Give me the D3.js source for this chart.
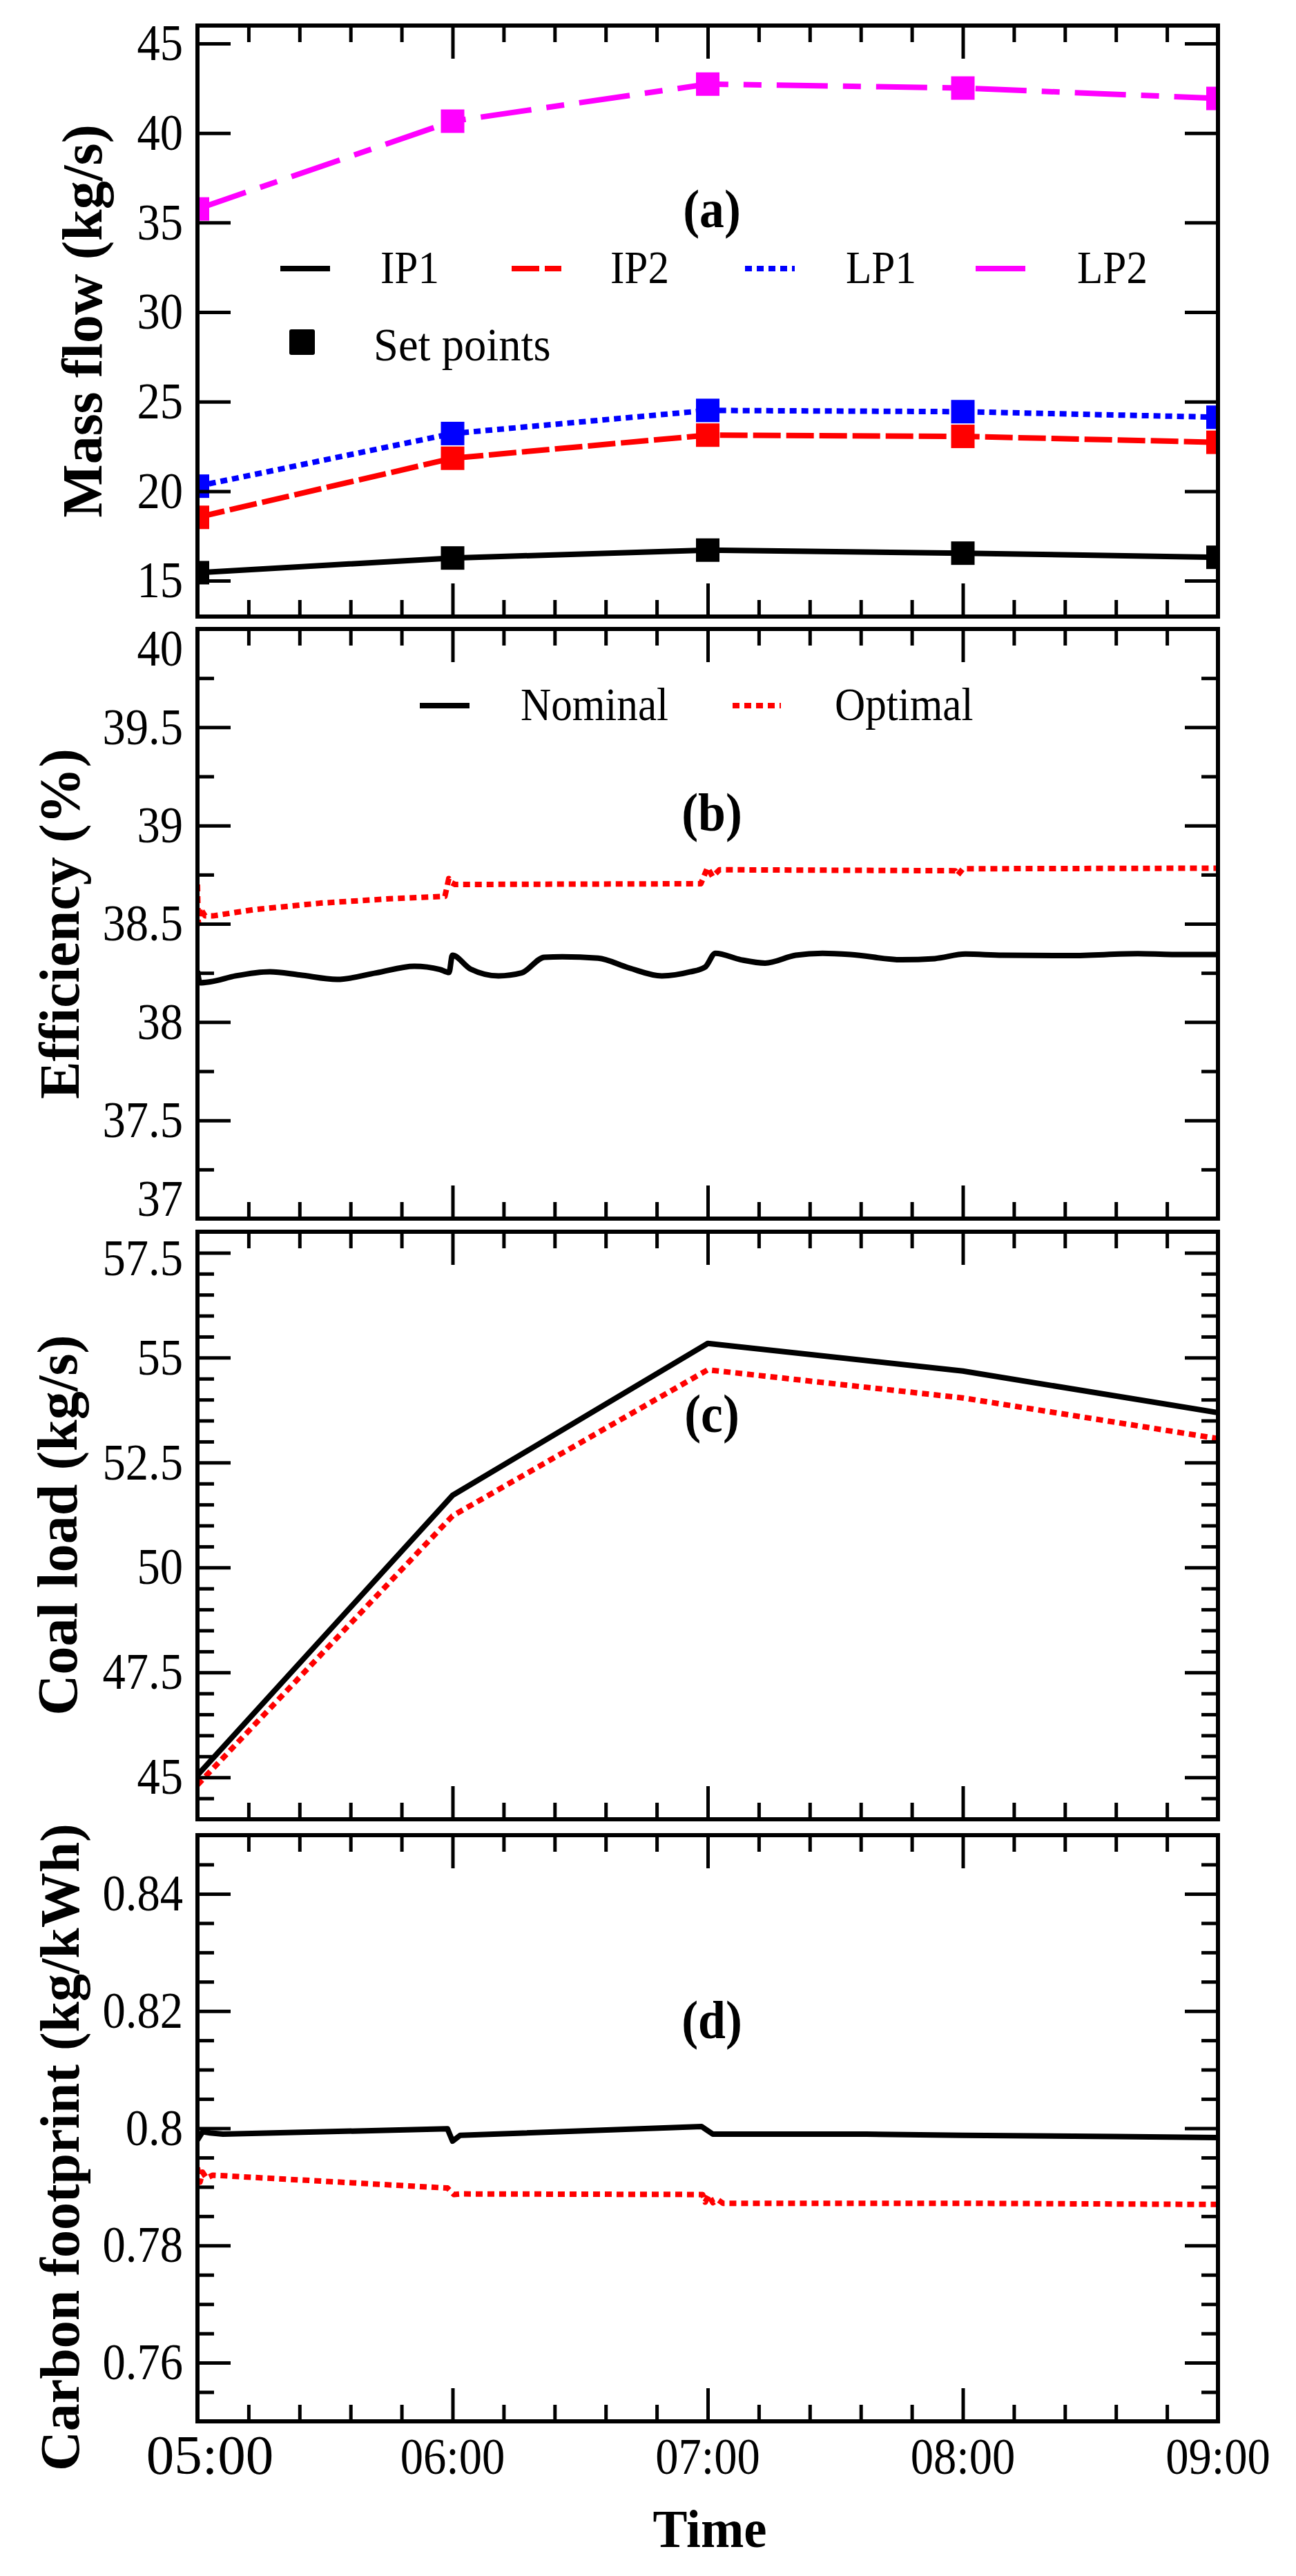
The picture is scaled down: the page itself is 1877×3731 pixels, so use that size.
<!DOCTYPE html>
<html><head><meta charset="utf-8">
<script src="https://cdn.jsdelivr.net/npm/d3@7"></script>
<style>body{margin:0;background:#fff}</style>
</head><body>
<script>
// ---------------- DATA ----------------
const hours = [5, 6, 7, 8, 9];
const hourLabels = ["05:00", "06:00", "07:00", "08:00", "09:00"];

// (a) Mass flow set points (kg/s)
const ip1 = [15.45, 16.27, 16.71, 16.54, 16.31];
const ip2 = [18.54, 21.84, 23.13, 23.06, 22.73];
const lp1 = [20.28, 23.22, 24.51, 24.44, 24.13];
const lp2 = [35.76, 40.66, 42.73, 42.51, 41.93];

// (b) Efficiency (%)
const effNomT = [5.000, 5.010, 5.050, 5.150, 5.284, 5.400, 5.547, 5.700, 5.850, 5.950, 5.986, 5.999, 6.070, 6.180, 6.270, 6.360, 6.430, 6.570, 6.690, 6.820, 6.930, 6.990, 7.030, 7.130, 7.225, 7.345, 7.450, 7.560, 7.760, 7.890, 8.010, 8.155, 8.420, 8.686, 8.820, 9.000];
const effNomV = [38.26, 38.20, 38.205, 38.235, 38.256, 38.24, 38.217, 38.25, 38.284, 38.268, 38.252, 38.34, 38.27, 38.235, 38.25, 38.33, 38.332, 38.325, 38.276, 38.235, 38.255, 38.28, 38.35, 38.317, 38.30, 38.34, 38.35, 38.344, 38.317, 38.323, 38.346, 38.34, 38.338, 38.348, 38.344, 38.344];
const effOptT = [5.000, 5.003, 5.010, 5.030, 5.060, 5.220, 5.480, 5.750, 5.970, 5.985, 5.995, 6.010, 6.973, 6.999, 7.019, 7.046, 7.970, 7.980, 8.000, 9.000];
const effOptV = [38.70, 38.50, 38.58, 38.54, 38.54, 38.572, 38.605, 38.627, 38.64, 38.73, 38.71, 38.70, 38.704, 38.786, 38.74, 38.775, 38.77, 38.748, 38.78, 38.783];

// (c) Coal load (kg/s)
const coalNom = [45.05, 51.72, 55.34, 54.68, 53.69];
const coalOpt = [44.82, 51.23, 54.71, 54.04, 53.07];

// (d) Carbon footprint (kg/kWh)
const cfNomT = [5.000, 5.020, 5.050, 5.100, 5.980, 6.000, 6.030, 6.976, 7.020, 7.620, 8.000, 8.600, 9.000];
const cfNomV = [0.7980, 0.7994, 0.7992, 0.7990, 0.7999, 0.7978, 0.7988, 0.8003, 0.7990, 0.7990, 0.7988, 0.7986, 0.7984];
const cfOptT = [5.000, 5.010, 5.020, 5.035, 5.060, 5.980, 6.005, 6.030, 6.980, 6.990, 7.005, 7.020, 7.040, 7.060, 8.000, 9.000];
const cfOptV = [0.7933, 0.7908, 0.7925, 0.7915, 0.7920, 0.7898, 0.7887, 0.7888, 0.7887, 0.7874, 0.7886, 0.7873, 0.7878, 0.7872, 0.7872, 0.7870];

// tick labels
const massTicks = [15, 20, 25, 30, 35, 40, 45];
const effTicks = [37, 37.5, 38, 38.5, 39, 39.5, 40];
const coalTicks = [45, 47.5, 50, 52.5, 55, 57.5];
const cfTicks = [0.76, 0.78, 0.8, 0.82, 0.84];

// ---------------- DRAWING ----------------
const W = 1877, H = 3731;
const FONT = "'Liberation Serif','Times New Roman',Times,serif";
const SX = 0.9; // narrow Times look of the reference
const svg = d3.select("body").append("svg").attr("width", W).attr("height", H)
  .attr("xmlns", "http://www.w3.org/2000/svg");
svg.append("rect").attr("width", W).attr("height", H).attr("fill", "#fff");
const defs = svg.append("defs");

const X0 = 286, X1 = 1764;
const x = d3.scaleLinear().domain([5, 9]).range([X0, X1]);
const xMinor = d3.range(5.2, 9, 0.2).filter(v => Math.abs(v - Math.round(v)) > 1e-6);

function minorOf(lo, hi, step, majors) {
  const out = [];
  const n = Math.round((hi - lo) / step);
  for (let i = 0; i <= n; i++) {
    const v = +(lo + i * step).toFixed(6);
    if (!majors.some(m => Math.abs(m - v) < step / 10)) out.push(v);
  }
  return out;
}

function styleAxis(sel) {
  sel.select(".domain").remove();
  sel.selectAll("line").attr("stroke", "#000").attr("stroke-width", 5);
  sel.attr("font-family", FONT).attr("font-size", 74);
  sel.selectAll("text").attr("fill", "#000");
}

function panel(id, top, bottom, domain, major, minor, fmt, shift) {
  const y = d3.scaleLinear().domain(domain).range([bottom, top]);
  const g = svg.append("g");
  defs.append("clipPath").attr("id", "clip" + id)
    .append("rect").attr("x", X0).attr("y", top).attr("width", X1 - X0).attr("height", bottom - top);
  const plot = g.append("g").attr("clip-path", `url(#clip${id})`);
  const axes = g.append("g");

  const left = axes.append("g").attr("transform", `translate(${X0},0)`)
    .call(d3.axisLeft(y).tickValues(major).tickSize(-48).tickPadding(21).tickFormat(fmt));
  styleAxis(left);
  left.selectAll("text").attr("x", 0)
    .attr("transform", d => `translate(-21,${(shift && shift[d]) || 0}) scale(${SX},1)`);
  if (minor.length) styleAxis(axes.append("g").attr("transform", `translate(${X0},0)`)
    .call(d3.axisLeft(y).tickValues(minor).tickSize(-24).tickFormat("")));
  styleAxis(axes.append("g").attr("transform", `translate(${X1},0)`)
    .call(d3.axisRight(y).tickValues(major).tickSize(-48).tickFormat("")));
  if (minor.length) styleAxis(axes.append("g").attr("transform", `translate(${X1},0)`)
    .call(d3.axisRight(y).tickValues(minor).tickSize(-24).tickFormat("")));
  styleAxis(axes.append("g").attr("transform", `translate(0,${top})`)
    .call(d3.axisTop(x).tickValues(hours).tickSize(-48).tickFormat("")));
  styleAxis(axes.append("g").attr("transform", `translate(0,${top})`)
    .call(d3.axisTop(x).tickValues(xMinor).tickSize(-24).tickFormat("")));
  styleAxis(axes.append("g").attr("transform", `translate(0,${bottom})`)
    .call(d3.axisBottom(x).tickValues(hours).tickSize(-48).tickFormat("")));
  styleAxis(axes.append("g").attr("transform", `translate(0,${bottom})`)
    .call(d3.axisBottom(x).tickValues(xMinor).tickSize(-24).tickFormat("")));

  const frame = () => g.append("rect").attr("x", X0).attr("y", top)
    .attr("width", X1 - X0).attr("height", bottom - top)
    .attr("fill", "none").attr("stroke", "#000").attr("stroke-width", 6);
  return { y, plot, g, frame, top, bottom };
}

function drawLine(p, xs, ys, color, dash, curve) {
  const pts = xs.map((t, i) => [t, ys[i]]);
  const gen = d3.line().x(d => x(d[0])).y(d => p.y(d[1]));
  if (curve) gen.curve(curve);
  p.plot.append("path").datum(pts)
    .attr("d", gen)
    .attr("fill", "none").attr("stroke", color).attr("stroke-width", 8)
    .attr("stroke-dasharray", dash || null).attr("stroke-linejoin", "round");
}
function drawMarkers(p, xs, ys, color) {
  p.plot.selectAll(null).data(xs.map((t, i) => [t, ys[i]])).enter().append("rect")
    .attr("x", d => x(d[0]) - 17).attr("y", d => p.y(d[1]) - 17)
    .attr("width", 34).attr("height", 34).attr("fill", color);
}
function text(xp, yp, s, size, opts = {}) {
  const t = svg.append("text").attr("x", 0).attr("y", 0).text(s)
    .attr("font-family", FONT).attr("font-size", size).attr("fill", "#000")
    .attr("text-anchor", opts.anchor || "start")
    .attr("font-weight", opts.bold ? "bold" : "normal");
  const sx = opts.sx || 1;
  t.attr("transform", `translate(${xp},${yp})` + (opts.rotate ? " rotate(-90)" : "") + ` scale(${sx},1)`);
  return t;
}

const DASH_IP2 = "40,8";
const DOT = "10,7";
const DASHDOT = "74,22,26,22";
const RED = "#ff0000", BLUE = "#0000ff", MAG = "#ff00ff", BLACK = "#000000";

// ---- Panel (a)
const pa = panel("a", 37, 893, [13, 46], massTicks, [], d3.format("d"));
drawLine(pa, hours, lp2, MAG, DASHDOT);
drawLine(pa, hours, lp1, BLUE, DOT);
drawLine(pa, hours, ip2, RED, DASH_IP2);
drawLine(pa, hours, ip1, BLACK);
drawMarkers(pa, hours, lp2, MAG);
drawMarkers(pa, hours, lp1, BLUE);
drawMarkers(pa, hours, ip2, RED);
drawMarkers(pa, hours, ip1, BLACK);
pa.frame();
text(1031, 329, "(a)", 78, { anchor: "middle", bold: true, sx: 0.92 });
const legA = [
  { name: "IP1", color: BLACK, dash: null, x0: 406, tx: 551 },
  { name: "IP2", color: RED, dash: DASH_IP2, x0: 741, tx: 884 },
  { name: "LP1", color: BLUE, dash: DOT, x0: 1079, tx: 1225 },
  { name: "LP2", color: MAG, dash: DASHDOT, x0: 1413, tx: 1560 }
];
legA.forEach(l => {
  svg.append("line").attr("x1", l.x0).attr("x2", l.x0 + 72).attr("y1", 389).attr("y2", 389)
    .attr("stroke", l.color).attr("stroke-width", 8).attr("stroke-dasharray", l.dash);
  text(l.tx, 410, l.name, 68, { sx: SX });
});
svg.append("rect").attr("x", 419).attr("y", 477).attr("width", 37).attr("height", 37)
  .attr("rx", 3).attr("fill", BLACK);
text(541, 522, "Set points", 68, { sx: 0.95 });
text(147, 465, "Mass flow (kg/s)", 82, { anchor: "middle", bold: true, rotate: true });

// ---- Panel (b)
const pb = panel("b", 911, 1765, [37, 40], effTicks,
  minorOf(37, 40, 0.25, effTicks), d => d3.format("~g")(d), { 40: 29, 37: -28 });
drawLine(pb, effNomT, effNomV, BLACK, null, d3.curveMonotoneX);
drawLine(pb, effOptT, effOptV, RED, DOT);
pb.frame();
text(1031, 1203, "(b)", 78, { anchor: "middle", bold: true, sx: 0.92 });
svg.append("line").attr("x1", 608).attr("x2", 680).attr("y1", 1022).attr("y2", 1022)
  .attr("stroke", BLACK).attr("stroke-width", 8);
text(754, 1043, "Nominal", 68, { sx: SX });
svg.append("line").attr("x1", 1061).attr("x2", 1131).attr("y1", 1022).attr("y2", 1022)
  .attr("stroke", RED).attr("stroke-width", 8).attr("stroke-dasharray", DOT);
text(1209, 1043, "Optimal", 68, { sx: SX });
text(114, 1338, "Efficiency (%)", 82, { anchor: "middle", bold: true, rotate: true });

// ---- Panel (c)
const pc = panel("c", 1784, 2635, [44, 58], coalTicks,
  minorOf(44, 58, 0.5, coalTicks), d => d3.format("~g")(d), { 57.5: 8 });
drawLine(pc, hours, coalNom, BLACK);
drawLine(pc, hours, coalOpt, RED, DOT);
pc.frame();
text(1031, 2074, "(c)", 78, { anchor: "middle", bold: true, sx: 0.92 });
text(111, 2209, "Coal load (kg/s)", 82, { anchor: "middle", bold: true, rotate: true });

// ---- Panel (d)
const pd = panel("d", 2658, 3507, [0.75, 0.85], cfTicks,
  minorOf(0.75, 0.85, 0.005, cfTicks), d => d3.format("~g")(d));
drawLine(pd, cfNomT, cfNomV, BLACK);
drawLine(pd, cfOptT, cfOptV, RED, DOT);
pd.frame();
text(1031, 2952, "(d)", 78, { anchor: "middle", bold: true, sx: 0.92 });
text(114, 3110, "Carbon footprint (kg/kWh)", 80, { anchor: "middle", bold: true, rotate: true });

// x tick labels (bottom panel only)
const xl = svg.append("g").attr("font-family", FONT).attr("fill", "#000");
xl.selectAll("text").data(hours).enter().append("text")
  .attr("x", 0).attr("y", 0)
  .attr("transform", (d, i) => i === 0
    ? `translate(${x(d) + 18},3583)`
    : `translate(${x(d)},3583) scale(${SX},1)`)
  .attr("text-anchor", "middle")
  .attr("font-size", (d, i) => i === 0 ? 81 : 74)
  .text((d, i) => hourLabels[i]);
text(1028, 3689, "Time", 78, { anchor: "middle", bold: true, sx: 0.96 });
</script>
</body></html>
